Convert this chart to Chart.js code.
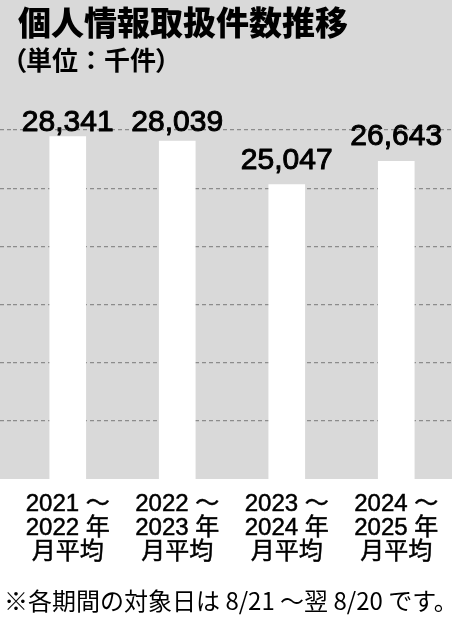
<!DOCTYPE html>
<html lang="ja">
<head>
<meta charset="utf-8">
<script src="https://cdn.jsdelivr.net/npm/chart.js@4.4.1/dist/chart.umd.min.js"></script>
<style>
html,body{margin:0;padding:0;background:#fff;}
#wrap{position:relative;width:452px;height:622px;overflow:hidden;}
canvas{position:absolute;left:0;top:0;}
.t{position:absolute;margin:0;white-space:nowrap;color:#000;font-family:'Noto Sans CJK JP',sans-serif;}
#title{left:18px;top:5px;font-size:33px;font-weight:900;line-height:33px;}
#sub{left:13px;top:46px;font-size:26px;font-weight:700;line-height:26px;}
#note{left:4px;top:588px;font-size:24px;font-weight:400;line-height:24px;}
.p{font-feature-settings:"palt";}
</style>
</head>
<body>
<div id="wrap">
<canvas id="c" width="452" height="622"></canvas>
<h1 class="t" id="title">個人情報取扱件数推移</h1>
<div class="t" id="sub"><span class="p">（</span>単位：千件<span class="p">）</span></div>
<div class="t" id="note">※各期間の対象日は 8/21 ～翌 8/20 です。</div>
</div>
<script>
// ---- data ----
const categories = [
  ['2021 ～', '2022 年', '月平均'],
  ['2022 ～', '2023 年', '月平均'],
  ['2023 ～', '2024 年', '月平均'],
  ['2024 ～', '2025 年', '月平均']
];
const values = [28341, 28039, 25047, 26643];
const axisMin = 4800;
const axisMax = 28800;
const axisStep = 4000;

const GRAY = '#d9d9d9';
const GRID = '#8c8c8c';
const LATIN = "'Liberation Sans', 'Noto Sans CJK JP', sans-serif";

const bgPlugin = {
  id: 'bg',
  beforeDraw(chart) {
    const {ctx, chartArea, width, height} = chart;
    ctx.save();
    ctx.fillStyle = '#ffffff';
    ctx.fillRect(0, 0, width, height);
    ctx.fillStyle = GRAY;
    ctx.fillRect(0, 0, width, chartArea.bottom);
    ctx.restore();
  }
};

const valueLabelPlugin = {
  id: 'valueLabels',
  afterDatasetsDraw(chart) {
    const {ctx} = chart;
    const meta = chart.getDatasetMeta(0);
    ctx.save();
    ctx.font = "400 30px " + LATIN;
    ctx.textAlign = 'center';
    ctx.textBaseline = 'alphabetic';
    ctx.lineJoin = 'round';
    meta.data.forEach((bar, i) => {
      const txt = values[i].toLocaleString('en-US');
      const y = Math.max(bar.y - 16, chart.chartArea.top + 1);
      ctx.lineWidth = 1;
      ctx.strokeStyle = '#000';
      ctx.strokeText(txt, bar.x, y);
      ctx.fillStyle = '#000';
      ctx.fillText(txt, bar.x, y);
    });
    ctx.restore();
  }
};

const gridColor = c => (c.tick && c.tick.value === axisMin) ? 'rgba(0,0,0,0)' : GRID;

new Chart(document.getElementById('c'), {
  type: 'bar',
  data: {
    labels: categories,
    datasets: [{
      data: values,
      backgroundColor: '#ffffff',
      borderWidth: 0,
      barThickness: 36
    }]
  },
  options: {
    responsive: false,
    animation: false,
    devicePixelRatio: 1,
    layout: {padding: {top: 130, right: 1, bottom: 33, left: 0}},
    plugins: {legend: {display: false}, tooltip: {enabled: false}, title: {display: false}},
    scales: {
      x: {
        grid: {display: false, drawTicks: false},
        border: {display: false},
        ticks: {
          color: '#000',
          font: {family: LATIN, size: 24, lineHeight: 1},
          padding: 13,
          maxRotation: 0,
          autoSkip: false,
          textStrokeColor: '#000',
          textStrokeWidth: 0.5
        },
        afterFit(s) { s.height = 110; }
      },
      y: {
        min: axisMin,
        max: axisMax,
        ticks: {display: false, stepSize: axisStep},
        border: {display: false, dash: [4, 3]},
        grid: {
          color: gridColor,
          tickColor: gridColor,
          lineWidth: 1.2,
          tickWidth: 1.2,
          drawTicks: true,
          tickLength: 13,
          tickBorderDash: [4, 3]
        }
      }
    }
  },
  plugins: [bgPlugin, valueLabelPlugin]
});
</script>
</body>
</html>
